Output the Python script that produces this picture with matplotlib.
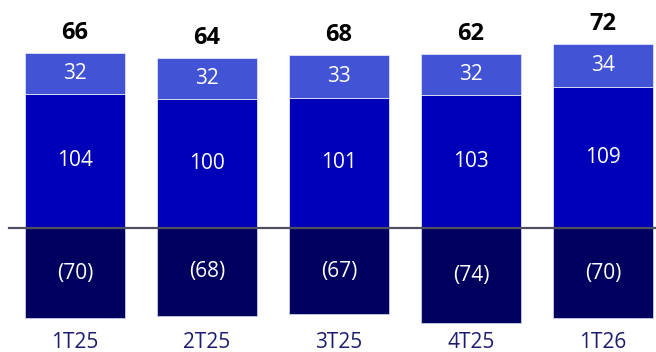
import matplotlib
matplotlib.use("Agg")
import matplotlib.pyplot as plt

categories = ["1T25", "2T25", "3T25", "4T25", "1T26"]
seg_top = [32, 32, 33, 32, 34]
seg_mid = [104, 100, 101, 103, 109]
seg_neg = [-70, -68, -67, -74, -70]
totals = [66, 64, 68, 62, 72]

c_top = "#4353D5"
c_mid = "#0000B9"
c_neg = "#00005E"

plt.rcParams['font.family'] = ['Open Sans', 'DejaVu Sans']

fig = plt.figure(figsize=(6.56, 3.52), dpi=100)
ax = fig.add_axes([0, 0, 1, 1])
px = 1.29
ax.set_xlim(-75/132, (656-75)/132)
ax.set_ylim(-(352-228)/px, 228/px)
ax.axis('off')

x = list(range(len(categories)))
w = 100/132
ax.bar(x, seg_mid, width=w, color=c_mid, edgecolor="#e0e3f7", linewidth=0.6, zorder=2)
ax.bar(x, seg_top, bottom=seg_mid, width=w, color=c_top, edgecolor="#e0e3f7", linewidth=0.6, zorder=2)
ax.bar(x, seg_neg, width=w, color=c_neg, edgecolor="#c8cce8", linewidth=0.6, zorder=2)
ax.axhline(0, xmin=9/656, xmax=1, color="#505060", linewidth=1.6, zorder=3)

for i in x:
    ax.text(i, seg_mid[i] + seg_top[i]/2, str(seg_top[i]), ha='center', va='center',
            color='white', fontsize=15, zorder=4)
    ax.text(i, seg_mid[i]/2, str(seg_mid[i]), ha='center', va='center',
            color='white', fontsize=15, zorder=4)
    ax.text(i, seg_neg[i]/2, f"({-seg_neg[i]})", ha='center', va='center',
            color='white', fontsize=15, zorder=4)
    ax.text(i, seg_mid[i] + seg_top[i] + 20/px, str(totals[i]), ha='center', va='center',
            color='black', fontsize=17, fontweight='bold', zorder=4)
    ax.text(i, -(343-228)/px, categories[i], ha='center', va='center',
            color='#1c1c6e', fontsize=15, zorder=4)

fig.savefig("out.png", dpi=100)
